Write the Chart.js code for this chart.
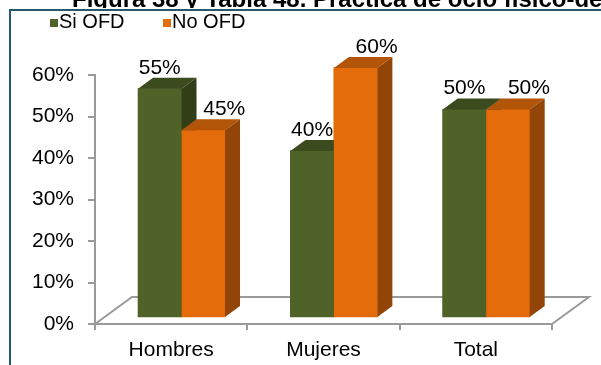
<!DOCTYPE html>
<html>
<head>
<meta charset="utf-8">
<script src="https://cdn.jsdelivr.net/npm/chart.js@4.4.0/dist/chart.umd.min.js"></script>
<style>
  html, body { margin: 0; padding: 0; background: #fff; overflow: hidden; }
  #wrap { position: relative; width: 601px; height: 365px; }
</style>
</head>
<body>
<div id="wrap"><canvas id="c" width="601" height="365"></canvas></div>
<script>
const titleText = 'Figura 38 y Tabla 48. Práctica de ocio físico-deportivo';
const categories = ['Hombres', 'Mujeres', 'Total'];
const seriesNames = ['Si OFD', 'No OFD'];
const siOFD = [0.55, 0.40, 0.50];
const noOFD = [0.45, 0.60, 0.50];
const yTicks = [0, 0.1, 0.2, 0.3, 0.4, 0.5, 0.6];

const FONT = '"Liberation Sans", Arial, sans-serif';
const pct = v => Math.round(v * 100) + '%';

// face colours: front, top, side
const palette = [
  { front: '#4F6228', top: '#3C4B1E', side: '#313E18' },
  { front: '#E46C0A', top: '#B35508', side: '#934507' }
];
const labelShift = [0, 21];      // horizontal nudge of value labels per series
const BAR_DX = 15, BAR_DY = 11;  // bar depth
const FLOOR_DX = 37, FLOOR_DY = 27;
const AXIS_GREY = '#9A9A9A';

const frame3d = {
  id: 'frame3d',
  beforeDraw(chart) {
    const ctx = chart.ctx;
    ctx.save();
    // title sits partly above the frame; only its lower part shows
    ctx.save();
    ctx.beginPath();
    ctx.rect(0, 0, chart.width, 8);
    ctx.clip();
    ctx.fillStyle = '#000';
    ctx.font = 'bold 24px ' + FONT;
    ctx.textBaseline = 'alphabetic';
    ctx.fillText(titleText, 72, 7);
    ctx.restore();
    ctx.strokeStyle = '#235A6E';
    ctx.lineWidth = 2;
    ctx.strokeRect(10, 10, 800, 600);
    // legend
    ctx.font = '20px ' + FONT;
    ctx.textBaseline = 'alphabetic';
    const legendX = [50, 163];
    chart.data.datasets.forEach((ds, i) => {
      ctx.fillStyle = palette[i].front;
      ctx.fillRect(legendX[i], 19, 8, 8);
      ctx.fillStyle = '#000';
      ctx.fillText(ds.label, legendX[i] + 9, 28);
    });
    ctx.restore();
  },
  beforeDatasetsDraw(chart) {
    const { ctx, chartArea: a } = chart;
    ctx.save();
    ctx.strokeStyle = AXIS_GREY;
    ctx.lineWidth = 2;
    ctx.beginPath();
    ctx.moveTo(a.left, a.bottom);
    ctx.lineTo(a.left + FLOOR_DX, a.bottom - FLOOR_DY);
    ctx.lineTo(a.right + FLOOR_DX, a.bottom - FLOOR_DY);
    ctx.lineTo(a.right, a.bottom);
    ctx.stroke();
    ctx.restore();
  },
  afterDatasetsDraw(chart) {
    const ctx = chart.ctx;
    const metas = chart.data.datasets.map((_, i) => chart.getDatasetMeta(i));
    ctx.save();
    categories.forEach((_, ci) => {
      metas.forEach((meta, di) => {
        const el = meta.data[ci];
        const { x, y, base, width } = el.getProps(['x', 'y', 'base', 'width'], true);
        const l = x - width / 2, r = x + width / 2;
        const c = palette[di];
        ctx.fillStyle = c.front;
        ctx.fillRect(l, y, width, base - y);
        ctx.fillStyle = c.top;
        ctx.beginPath();
        ctx.moveTo(l, y); ctx.lineTo(r, y);
        ctx.lineTo(r + BAR_DX, y - BAR_DY); ctx.lineTo(l + BAR_DX, y - BAR_DY);
        ctx.closePath(); ctx.fill();
        ctx.fillStyle = c.side;
        ctx.beginPath();
        ctx.moveTo(r, y); ctx.lineTo(r + BAR_DX, y - BAR_DY);
        ctx.lineTo(r + BAR_DX, base - BAR_DY); ctx.lineTo(r, base);
        ctx.closePath(); ctx.fill();
      });
    });
    ctx.fillStyle = '#000';
    ctx.font = '21px ' + FONT;
    ctx.textAlign = 'center';
    ctx.textBaseline = 'alphabetic';
    metas.forEach((meta, di) => {
      meta.data.forEach((el, ci) => {
        const v = chart.data.datasets[di].data[ci].y;
        ctx.fillText(pct(v), el.x + labelShift[di], el.y - 15);
      });
    });
    ctx.restore();
  }
};

const toPoints = arr => arr.map((v, i) => ({ x: i, y: v }));

new Chart(document.getElementById('c'), {
  type: 'bar',
  data: {
    labels: categories,
    datasets: [
      { label: seriesNames[0], data: toPoints(siOFD), backgroundColor: palette[0].front,
        xAxisID: 'xb', yAxisID: 'yb', clip: false },
      { label: seriesNames[1], data: toPoints(noOFD), backgroundColor: palette[1].front,
        xAxisID: 'xb', yAxisID: 'yb', clip: false }
    ]
  },
  options: {
    responsive: false,
    animation: false,
    barThickness: 43.5,
    layout: { padding: { top: 75, right: 49, left: 0, bottom: 0 } },
    plugins: { legend: { display: false }, tooltip: { enabled: false }, title: { display: false } },
    scales: {
      x: {
        type: 'category',
        position: 'bottom',
        offset: true,
        afterFit: s => { s.height = 41; },
        grid: { offset: true, drawOnChartArea: false, tickLength: 6, color: AXIS_GREY, lineWidth: 2 },
        border: { display: true, color: AXIS_GREY, width: 2 },
        ticks: { color: '#000', font: { family: FONT, size: 21 }, padding: 8, maxRotation: 0 }
      },
      y: {
        type: 'linear',
        position: 'left',
        min: 0, max: 0.6,
        afterFit: s => { s.width = 95; },
        afterBuildTicks: s => { s.ticks = yTicks.map(v => ({ value: v })); },
        grid: { drawOnChartArea: false, tickLength: 7, color: AXIS_GREY, lineWidth: 2 },
        border: { display: true, color: AXIS_GREY, width: 2 },
        ticks: { color: '#000', font: { family: FONT, size: 21 }, padding: 14, callback: v => pct(v) }
      },
      xb: { type: 'linear', display: false, offset: false, min: -0.568, max: 2.432 },
      yb: { type: 'linear', display: false, min: -0.017, max: 0.583 }
    }
  },
  plugins: [frame3d]
});
</script>
</body>
</html>
